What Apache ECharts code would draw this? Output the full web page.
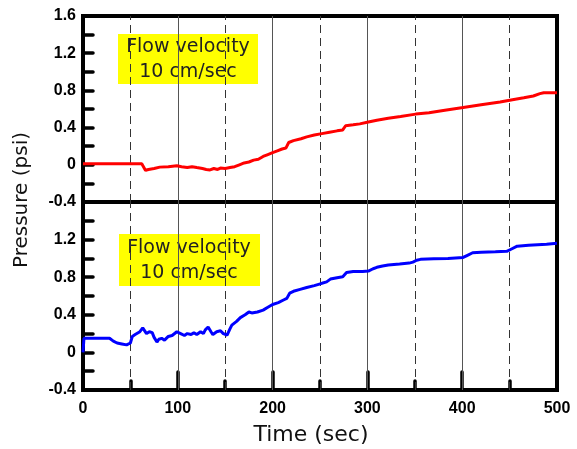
<!DOCTYPE html>
<html>
<head>
<meta charset="utf-8">
<script src="https://cdn.jsdelivr.net/npm/echarts@6/dist/echarts.min.js"></script>
<style>
html,body{margin:0;padding:0;background:#fff;}
#chart{width:577px;height:449px;}
</style>
</head>
<body>
<div id="chart"></div>
<script>
var dom = document.getElementById('chart');
var myChart = echarts.init(dom);

// top panel (red)
var topTime = [0,30,62,64,66,69,75,81,90,99,104,110,115,120,126,130,134,138,142,145,150,155,160,165,170,175,180,185,190,195,200,205,210,214,217,222,230,236,244,252,260,268,274,277,285,292,301,310,322,335,351,365,380,401,420,440,453,465,475,482,486,500];
var topPressure = [0.01,0.01,0.01,0.005,-0.06,-0.05,-0.04,-0.025,-0.02,-0.01,-0.02,-0.03,-0.02,-0.03,-0.04,-0.05,-0.055,-0.04,-0.05,-0.035,-0.04,-0.03,-0.02,0.0,0.02,0.03,0.05,0.06,0.09,0.11,0.13,0.15,0.17,0.18,0.24,0.26,0.28,0.30,0.32,0.335,0.35,0.365,0.375,0.42,0.43,0.44,0.46,0.48,0.50,0.52,0.545,0.56,0.585,0.615,0.645,0.675,0.70,0.72,0.74,0.765,0.775,0.775];

// bottom panel (blue)
var botTime = [0,1,15,28,32,36,41,46,50,52,55,57,60,63,65,67,70,73,75,78,80,83,86,90,94,99,103,107,110,114,117,120,124,127,129,132,135,137,141,145,148,152,155,157,162,166,171,175,178,184,190,195,200,206,212,215,218,222,229,236,244,252,257,261,268,274,278,285,295,301,306,310,316,322,334,344,348,352,356,370,385,401,405,411,420,435,447,452,458,470,489,500];
var botPressure = [0.0,0.15,0.15,0.15,0.12,0.10,0.09,0.08,0.10,0.17,0.19,0.20,0.22,0.26,0.24,0.20,0.22,0.21,0.16,0.11,0.14,0.15,0.13,0.17,0.18,0.22,0.20,0.18,0.20,0.19,0.21,0.19,0.22,0.20,0.24,0.27,0.22,0.19,0.22,0.23,0.20,0.185,0.25,0.29,0.33,0.37,0.40,0.43,0.42,0.43,0.45,0.48,0.51,0.53,0.56,0.575,0.63,0.65,0.67,0.69,0.71,0.735,0.75,0.78,0.795,0.805,0.85,0.86,0.86,0.865,0.89,0.905,0.92,0.93,0.94,0.95,0.96,0.98,0.99,0.995,1.0,1.01,1.03,1.06,1.065,1.07,1.075,1.10,1.13,1.14,1.15,1.16];

var solidLines = [100,200,300,400];
var dashedLines = [50,150,250,350,450];
var boxText = 'Flow velocity\n10 cm/sec';

function pairs(t, v){
	var out = [];
	for(var i=0;i<t.length;i++) out.push([t[i], v[i]]);
	return out;
}
function vLines(){
	var d = [];
	solidLines.forEach(function(x){ d.push({xAxis:x, lineStyle:{type:'solid', color:'#555', width:1}}); });
	dashedLines.forEach(function(x){ d.push({xAxis:x, lineStyle:{type:[8,5], color:'#333', width:1}}); });
	return d;
}

var labelFont = {color:'#000', fontFamily:'Liberation Sans', fontWeight:'bold', fontSize:16};
var tickStyle = {color:'#000', width:3.5, cap:'round'};

function yAxis(idx, showMax){
	return {
		gridIndex: idx, type:'value', min:-0.4, max:1.6, interval:0.4,
		axisLine:{show:false, onZero:false},
		axisTick:{show:true, inside:true, length:10, lineStyle:tickStyle},
		minorTick:{show:true, splitNumber:2, length:10, lineStyle:tickStyle},
		splitLine:{show:false},
		axisLabel:Object.assign({margin:7, showMaxLabel:showMax, formatter:function(v){ return String(Math.round(v*10)/10); }}, labelFont)
	};
}

option = {
	animation:false,
	grid:[
		{left:83, right:20, top:16, height:186, show:true, borderColor:'#000', borderWidth:4},
		{left:83, right:20, top:202, height:188, show:true, borderColor:'#000', borderWidth:4}
	],
	xAxis:[
		{gridIndex:0, type:'value', min:0, max:500, interval:100,
			axisLine:{show:false, onZero:false}, axisTick:{show:false}, axisLabel:{show:false}, splitLine:{show:false}},
		{gridIndex:1, type:'value', min:0, max:500, interval:100,
			axisLine:{show:false, onZero:false},
			axisTick:{show:true, inside:true, length:18, lineStyle:tickStyle},
			minorTick:{show:true, splitNumber:2, length:9, lineStyle:tickStyle},
			splitLine:{show:false},
			axisLabel:Object.assign({margin:11}, labelFont),
			name:'Time (sec)', nameLocation:'middle', nameGap:34,
			nameTextStyle:{fontFamily:'DejaVu Sans', fontSize:22, color:'#111', padding:[0,18,0,0]}}
	],
	yAxis:[yAxis(0, true), yAxis(1, false)],
	graphic:[
		{type:'text', x:22, y:200, rotation:Math.PI/2,
			style:{text:'Pressure (psi)', textAlign:'center', textVerticalAlign:'middle', font:'20px "DejaVu Sans"', fill:'#111'}},
		{type:'rect', shape:{x:118, y:34, width:140, height:50}, style:{fill:'#ffff00'}},
		{type:'text', x:188, y:60, style:{text:boxText, textAlign:'center', textVerticalAlign:'middle', font:'19px "DejaVu Sans"', lineHeight:25, fill:'#222'}},
		{type:'rect', shape:{x:119, y:234, width:141, height:52}, style:{fill:'#ffff00'}},
		{type:'text', x:189, y:261, style:{text:boxText, textAlign:'center', textVerticalAlign:'middle', font:'19px "DejaVu Sans"', lineHeight:25, fill:'#222'}}
	],
	series:[
		{type:'line', xAxisIndex:0, yAxisIndex:0, data:[], z:1, silent:true,
			markLine:{silent:true, symbol:'none', label:{show:false}, data:vLines()}},
		{type:'line', xAxisIndex:1, yAxisIndex:1, data:[], z:1, silent:true,
			markLine:{silent:true, symbol:'none', label:{show:false}, data:vLines()}},
		{type:'line', xAxisIndex:0, yAxisIndex:0, data:pairs(topTime, topPressure), z:5,
			showSymbol:false, color:'#ff0000', lineStyle:{color:'#ff0000', width:3}},
		{type:'line', xAxisIndex:1, yAxisIndex:1, data:pairs(botTime, botPressure), z:5,
			showSymbol:false, color:'#0000ff', lineStyle:{color:'#0000ff', width:3}}
	]
};
myChart.setOption(option, true);
</script>
</body>
</html>
